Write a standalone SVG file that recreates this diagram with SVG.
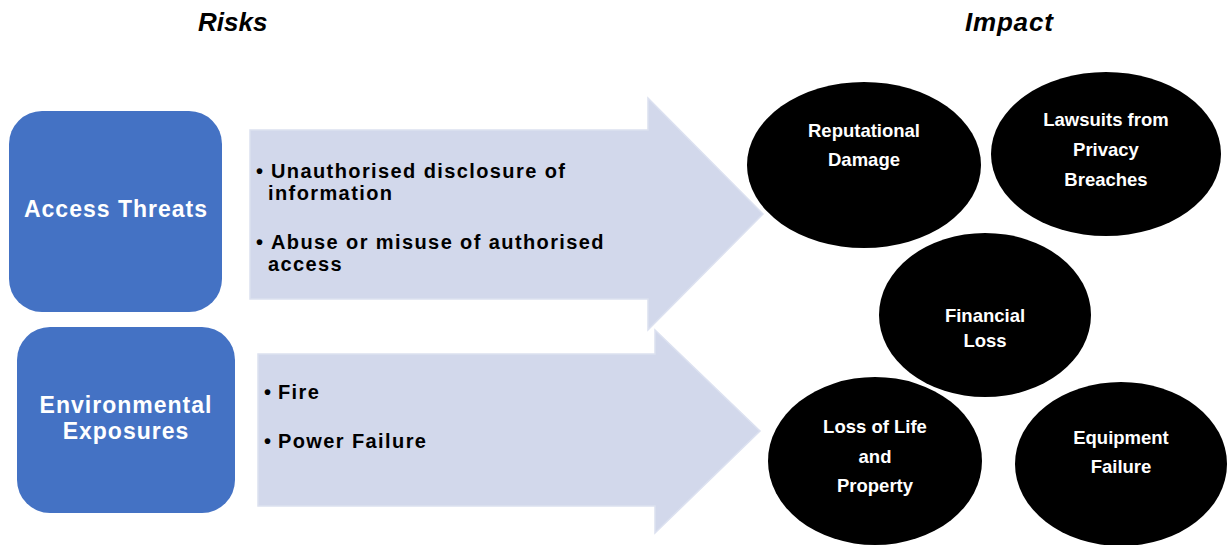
<svg xmlns="http://www.w3.org/2000/svg" width="1228" height="545" viewBox="0 0 1228 545">
<style>
.title{font-family:"Liberation Sans",Arial,sans-serif;font-weight:bold;font-style:italic;font-size:26px;fill:#000}
.box{fill:#4472C4}
.boxt{font-family:"Liberation Sans",Arial,sans-serif;font-weight:bold;font-size:23px;fill:#fff;text-anchor:middle;letter-spacing:1px}
.arrow{fill:#D2D8EB;stroke:#DCE1F0;stroke-width:1.5}
.bul{font-family:"Liberation Sans",Arial,sans-serif;font-weight:bold;font-size:20px;fill:#000;letter-spacing:1.4px}
.ell{fill:#000}
.et{font-family:"Liberation Sans",Arial,sans-serif;font-weight:bold;font-size:18.5px;fill:#fff;text-anchor:middle}
</style>
<rect width="1228" height="545" fill="#fff"/>
<g id="titles">
<text class="title" x="198" y="31">Risks</text>
<text class="title" x="965" y="31" letter-spacing="0.8">Impact</text>
</g>
<g id="connectors">
<path class="arrow" d="M250,130 H648 V98 L763,214 L648,330 V299 H250 Z"/>
<path class="arrow" d="M258,354 H655 V330 L760,431 L655,533 V506 H258 Z"/>
</g>
<g id="access-threats">
<rect class="box" x="9" y="111" width="213" height="201" rx="33"/>
<text class="boxt" x="116" y="217">Access Threats</text>
</g>
<g id="environmental-exposures">
<rect class="box" x="17" y="327" width="218" height="186" rx="33"/>
<text class="boxt" x="126" y="413">Environmental</text>
<text class="boxt" x="126" y="439">Exposures</text>
</g>
<g id="access-risks">
<text class="bul" x="256" y="178">•<tspan x="271">Unauthorised disclosure of</tspan></text>
<text class="bul" x="268" y="200">information</text>
<text class="bul" x="256" y="249">•<tspan x="271">Abuse or misuse of authorised</tspan></text>
<text class="bul" x="268" y="271">access</text>
</g>
<g id="environmental-risks">
<text class="bul" x="264" y="399">•<tspan x="278">Fire</tspan></text>
<text class="bul" x="264" y="448">•<tspan x="278">Power Failure</tspan></text>
</g>
<g id="reputational-damage">
<ellipse class="ell" cx="864" cy="165" rx="117" ry="83"/>
<text class="et" x="864" y="137">Reputational</text>
<text class="et" x="864" y="166">Damage</text>
</g>
<g id="lawsuits">
<ellipse class="ell" cx="1106" cy="154" rx="115" ry="82"/>
<text class="et" x="1106" y="126">Lawsuits from</text>
<text class="et" x="1106" y="156">Privacy</text>
<text class="et" x="1106" y="186">Breaches</text>
</g>
<g id="financial-loss">
<ellipse class="ell" cx="985" cy="315" rx="106" ry="82"/>
<text class="et" x="985" y="322">Financial</text>
<text class="et" x="985" y="347">Loss</text>
</g>
<g id="loss-of-life">
<ellipse class="ell" cx="875" cy="461" rx="107" ry="84"/>
<text class="et" x="875" y="433">Loss of Life</text>
<text class="et" x="875" y="463">and</text>
<text class="et" x="875" y="492">Property</text>
</g>
<g id="equipment-failure">
<ellipse class="ell" cx="1121" cy="464" rx="106" ry="82"/>
<text class="et" x="1121" y="444">Equipment</text>
<text class="et" x="1121" y="473">Failure</text>
</g>
</svg>
